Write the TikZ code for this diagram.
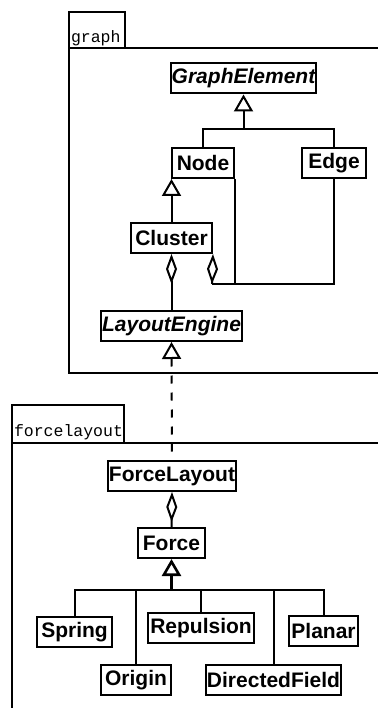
\documentclass[tikz,border=0pt]{standalone}
\usepackage{fontspec}
\setmainfont{Liberation Sans}
\newfontfamily\pkgfont{Liberation Mono}
\usetikzlibrary{arrows.meta}
\tikzstyle{classbox} = [draw=black, fill=white, line width=2pt,
    rectangle, inner sep=1pt, minimum height=30pt,
    font=\fontsize{21}{24}\selectfont\bfseries]
\tikzstyle{abstractbox} = [classbox, font=\fontsize{21}{24}\selectfont\bfseries\itshape]
\tikzstyle{pkgname} = [inner sep=0pt, anchor=base west,
    font=\pkgfont\fontsize{16.5}{18}\selectfont]
\tikzstyle{generalize} = [-{Triangle[open, length=17pt, width=19pt]}]
\tikzstyle{aggregate} = [-{Diamond[open, length=30pt, width=11pt]}]

\begin{document}
\begin{tikzpicture}[x=1pt, y=-1pt, line width=2pt]
                \useasboundingbox (0,0) rectangle (377,708);
                % packages
                \draw (69,12) rectangle (125,48);
                \draw (69,48) rectangle (390,373);
                \node[pkgname] (graphname) at (70,43) {graph};
                \draw (12,405) rectangle (124,443);
                \draw (12,443) rectangle (390,720);
                \node[pkgname] (forcename) at (13,436) {forcelayout};

                % graph package
                \node[abstractbox, minimum width=141pt] (graphelement) at (243.5,78.5) {GraphElement};
                \node[classbox, minimum width=62pt] (node) at (203,163) {Node};
                \node[classbox, minimum width=64pt] (edge) at (334,163) {Edge};
                \node[classbox, minimum width=81pt] (cluster) at (171.5,238) {Cluster};
                \node[abstractbox, minimum width=139pt] (layoutengine) at (171.5,326) {LayoutEngine};
                \coordinate (gejoin) at (243.5,129);
                \coordinate (aggjoin) at (212,284);

                \draw[generalize] (gejoin) -- (graphelement.south);
                \foreach \c in {node,edge}
                    \draw (\c.north) |- (gejoin);
                \draw[generalize] (cluster.north) -- (cluster.north |- node.south);
                \draw (edge.south) |- (aggjoin);
                \draw (node.south east) -- (node.south east |- aggjoin);
                \draw[aggregate] (aggjoin) -- (cluster.south east);
                \draw[aggregate] (layoutengine.north) -- (cluster.south);

                % forcelayout package
                \node[classbox, minimum width=128pt] (forcelayout) at (172,476) {ForceLayout};
                \node[classbox, minimum width=67pt] (force) at (171.5,543) {Force};
                \node[classbox, minimum width=75pt] (spring) at (74.5,632) {Spring};
                \node[classbox, minimum width=106pt] (repulsion) at (201,628) {Repulsion};
                \node[classbox, minimum width=69pt] (planar) at (323.5,630.5) {Planar};
                \node[classbox, minimum width=70pt] (origin) at (136,680) {Origin};
                \node[classbox, minimum width=133pt] (directedfield) at (273.5,680) {DirectedField};
                \coordinate (forcejoin) at (171.5,590);

                \draw[{Triangle[open, length=17pt, width=19pt]}-, dash pattern=on 8pt off 9pt]
                    (layoutengine.south) -- (forcelayout.north);
                \draw[aggregate] (force.north) -- (forcelayout.south);
                \draw[generalize, line width=2.6pt] (forcejoin) -- (force.south);
                \foreach \c in {spring,origin,repulsion,directedfield,planar}
                    \draw (\c.north) |- (forcejoin);
            \end{tikzpicture}
\end{document}
